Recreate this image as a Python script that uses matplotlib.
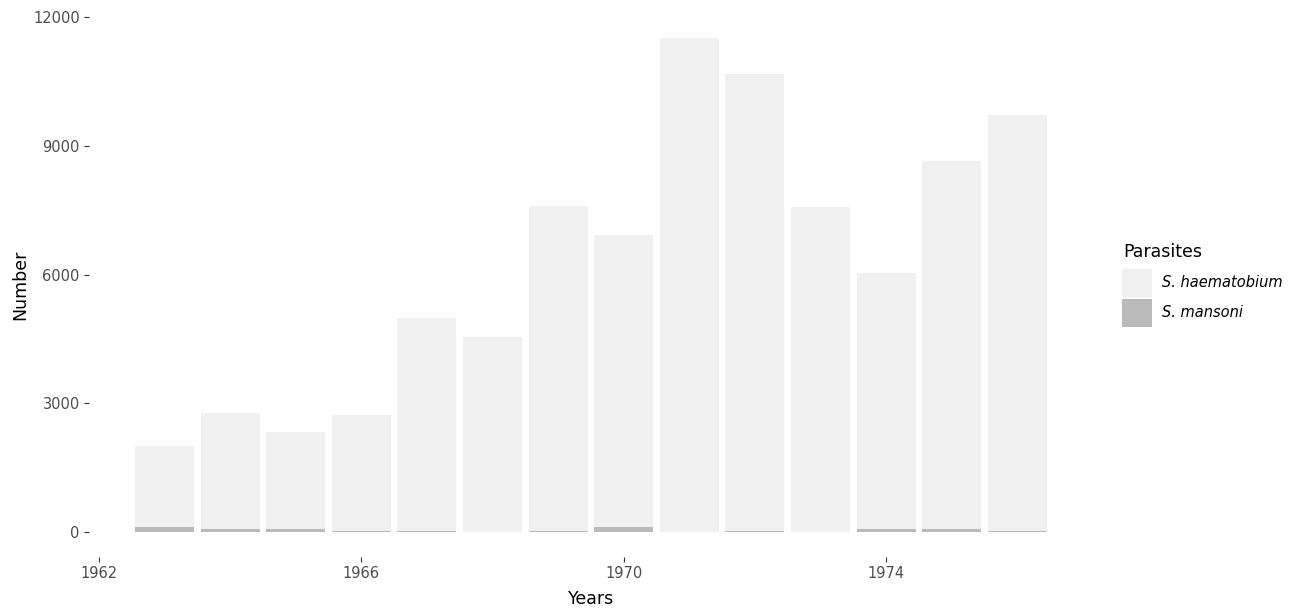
import matplotlib.pyplot as plt
from matplotlib.patches import Patch

# data
years = [1963, 1964, 1965, 1966, 1967, 1968, 1969, 1970, 1971, 1972, 1973, 1974, 1975, 1976]
totals = [2000, 2770, 2330, 2720, 4990, 4540, 7600, 6920, 11530, 10670, 7570, 6030, 8640, 9720]
mansoni = [120, 60, 60, 30, 30, 0, 30, 120, 0, 30, 0, 60, 60, 30]
haematobium = [t - m for t, m in zip(totals, mansoni)]

col_haem = "#F0F0F0"
col_mans = "#BABABA"
grey_txt = "#4D4D4D"

fig = plt.figure(figsize=(13, 6.09), dpi=100)
ax = fig.add_axes([0.0688, 0.086, 0.7715, 0.893])

ax.bar(years, mansoni, width=0.9, color=col_mans, linewidth=0)
ax.bar(years, haematobium, width=0.9, bottom=mansoni, color=col_haem, linewidth=0)

top = max(totals)
ax.set_ylim(-0.05 * top, top * 1.05)
span = (max(years) + 0.45) - (min(years) - 0.45)
ax.set_xlim(min(years) - 0.45 - 0.05 * span, max(years) + 0.45 + 0.05 * span)

ax.set_xticks([1962, 1966, 1970, 1974])
ax.set_yticks([0, 3000, 6000, 9000, 12000])
ax.tick_params(colors="#333333", labelcolor=grey_txt, labelsize=10.5, length=3.5, width=0.8)
for s in ax.spines.values():
    s.set_visible(False)

ax.set_xlabel("Years", fontsize=12.5, color="black", labelpad=6)
ax.set_ylabel("Number", fontsize=12.5, color="black", labelpad=3)

# legend: title as its own text, keys below it
fig.text(0.8638, 0.5862, "Parasites", fontsize=12.5, va="center", ha="left")
handles = [Patch(facecolor=col_haem, edgecolor="none", label="S. haematobium"),
           Patch(facecolor=col_mans, edgecolor="none", label="S. mansoni")]
leg = fig.legend(handles=handles, loc="upper left",
                 bbox_to_anchor=(0.8631, 0.5583), frameon=False,
                 prop={"style": "italic", "size": 10.5},
                 handlelength=2.05, handleheight=2.58, borderpad=0,
                 handletextpad=0.69, labelspacing=0.12, borderaxespad=0)

fig.savefig("out.png", dpi=100)
